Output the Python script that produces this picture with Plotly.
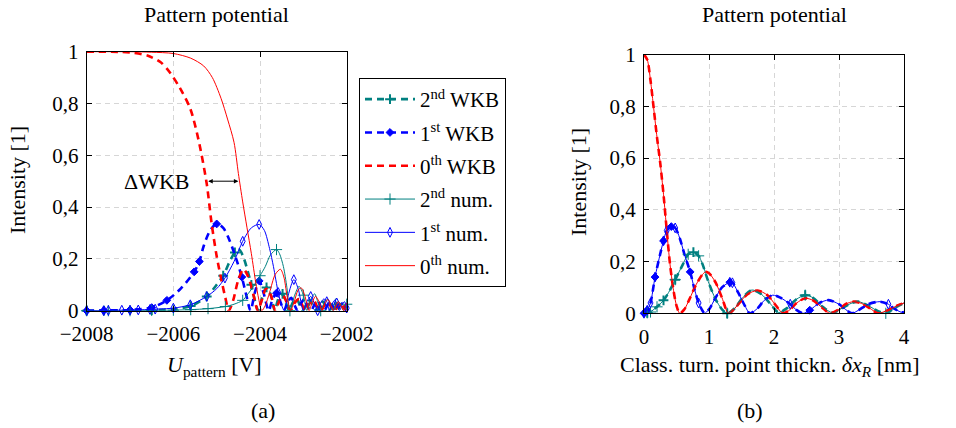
import plotly.graph_objects as go

FONT = "Liberation Serif"
TEAL = "#008080"
BLUE = "#0000ff"
RED = "#ff0000"

# ---------------- (a) left panel: intensity vs U_pattern ----------------
u_teal_wkb = [-2008, -2007.6, -2007.0, -2006.5, -2006.0, -2005.6, -2005.23, -2005.0, -2004.85, -2004.7,
              -2004.58, -2004.48, -2004.38, -2004.28, -2004.2, -2004.12, -2004.04, -2003.95, -2003.85,
              -2003.75, -2003.66, -2003.58, -2003.48, -2003.4, -2003.33, -2003.25, -2003.16, -2003.08,
              -2003.01, -2002.93, -2002.85, -2002.77, -2002.7, -2002.62, -2002.55, -2002.47, -2002.4,
              -2002.33, -2002.26, -2002.19, -2002.12, -2002.06, -2002.0]
i_teal_wkb = [0.0, 0.0, 0.001, 0.002, 0.006, 0.018, 0.055, 0.1, 0.135, 0.19,
              0.225, 0.235, 0.205, 0.15, 0.1, 0.04, 0.0, 0.05, 0.09,
              0.06, 0.0, 0.045, 0.065, 0.03, 0.0, 0.03, 0.048, 0.02,
              0.0, 0.025, 0.04, 0.015, 0.0, 0.02, 0.035, 0.01, 0.0,
              0.02, 0.03, 0.01, 0.0, 0.015, 0.025]
mk_teal_wkb = [-2008, -2007.6, -2006.5, -2005.6, -2005.23, -2004.85, -2004.58, -2004.2, -2003.85, -2003.48]

u_blue_wkb = [-2008, -2007.6, -2007.0, -2006.5, -2006.15, -2005.83, -2005.52, -2005.4, -2005.3, -2005.15,
              -2005.0, -2004.85, -2004.7, -2004.55, -2004.42, -2004.31, -2004.22, -2004.12, -2004.02,
              -2003.92, -2003.8, -2003.72, -2003.62, -2003.52, -2003.45, -2003.37, -2003.28, -2003.2,
              -2003.13, -2003.05, -2002.97, -2002.9, -2002.82, -2002.74, -2002.67, -2002.6, -2002.52,
              -2002.45, -2002.38, -2002.3, -2002.23, -2002.16, -2002.08, -2002.0]
i_blue_wkb = [0.0, 0.001, 0.003, 0.012, 0.04, 0.085, 0.15, 0.19, 0.25, 0.31,
              0.335, 0.32, 0.27, 0.2, 0.13, 0.055, 0.0, 0.07, 0.115,
              0.07, 0.0, 0.04, 0.068, 0.03, 0.0, 0.03, 0.05, 0.02,
              0.0, 0.03, 0.045, 0.015, 0.0, 0.025, 0.04, 0.015, 0.0,
              0.02, 0.035, 0.01, 0.0, 0.02, 0.03, 0.0]
mk_blue_wkb = [-2008, -2007.6, -2007.0, -2006.5, -2006.15, -2005.52, -2005.4, -2005.0, -2004.42, -2004.02, -2003.62]

u_red_wkb = [-2008, -2007.2, -2006.9, -2006.6, -2006.3, -2006.08, -2005.85, -2005.61, -2005.42, -2005.23,
             -2005.12, -2005.0, -2004.88, -2004.8, -2004.72, -2004.62, -2004.5, -2004.38, -2004.27,
             -2004.15, -2004.05, -2003.97, -2003.86, -2003.75, -2003.65, -2003.56, -2003.47, -2003.38,
             -2003.3, -2003.2, -2003.1, -2003.02, -2002.95, -2002.85, -2002.76, -2002.68, -2002.6,
             -2002.5, -2002.42, -2002.35, -2002.27, -2002.2, -2002.13, -2002.06, -2002.0]
i_red_wkb = [1.0, 0.999, 0.995, 0.985, 0.96, 0.92, 0.86, 0.78, 0.66, 0.49,
             0.34, 0.21, 0.11, 0.05, 0.0, 0.04, 0.12, 0.16, 0.13,
             0.06, 0.0, 0.035, 0.085, 0.06, 0.0, 0.035, 0.058, 0.03,
             0.0, 0.03, 0.045, 0.02, 0.0, 0.03, 0.04, 0.015, 0.0,
             0.025, 0.035, 0.01, 0.0, 0.02, 0.03, 0.01, 0.0]

u_teal_num = [-2008, -2007.5, -2007.0, -2006.5, -2006.0, -2005.6, -2005.2, -2004.8, -2004.6, -2004.4,
              -2004.3, -2004.15, -2004.0, -2003.88, -2003.76, -2003.62, -2003.55, -2003.46, -2003.38,
              -2003.31, -2003.2, -2003.1, -2003.0, -2002.92, -2002.84, -2002.74, -2002.66, -2002.6,
              -2002.52, -2002.44, -2002.37, -2002.32, -2002.26, -2002.19, -2002.12, -2002.07, -2002.02, -2002.0]
i_teal_num = [0.0, 0.0, 0.0, 0.001, 0.002, 0.004, 0.008, 0.016, 0.025, 0.04,
              0.06, 0.094, 0.135, 0.17, 0.215, 0.236, 0.22, 0.17, 0.09,
              0.0, 0.06, 0.094, 0.06, 0.0, 0.04, 0.065, 0.03, 0.0,
              0.03, 0.045, 0.02, 0.0, 0.025, 0.035, 0.015, 0.0, 0.02, 0.025]
mk_teal_num = [-2008, -2007.5, -2007.0, -2006.5, -2006.0, -2005.6, -2005.2, -2004.8, -2004.4, -2004.0,
               -2003.62, -2003.31, -2003.0, -2002.6, -2002.26, -2002.0]

u_blue_num = [-2008, -2007.61, -2007.5, -2007.19, -2007.0, -2006.81, -2006.54, -2006.42, -2006.0, -2005.61,
              -2005.23, -2005.0, -2004.81, -2004.6, -2004.4, -2004.2, -2004.02, -2003.9, -2003.78,
              -2003.69, -2003.58, -2003.5, -2003.44, -2003.35, -2003.22, -2003.12, -2003.0, -2002.92,
              -2002.83, -2002.74, -2002.67, -2002.6, -2002.53, -2002.46, -2002.4, -2002.34, -2002.28,
              -2002.23, -2002.17, -2002.11, -2002.05, -2002.0]
i_blue_num = [0.0, 0.0, 0.001, 0.002, 0.002, 0.003, 0.005, 0.006, 0.01, 0.023,
              0.055, 0.085, 0.126, 0.19, 0.268, 0.32, 0.333, 0.31, 0.24,
              0.17, 0.07, 0.02, 0.0, 0.06, 0.12, 0.085, 0.0, 0.035,
              0.055, 0.025, 0.0, 0.03, 0.045, 0.035, 0.0, 0.025, 0.04,
              0.03, 0.0, 0.02, 0.035, 0.01]
mk_blue_num = [-2008, -2007.61, -2007.5, -2007.19, -2007.0, -2006.81, -2006.54, -2006.42, -2006.0,
               -2005.61, -2005.23, -2004.81, -2004.4, -2004.02, -2003.58, -2003.22, -2002.83,
               -2002.67, -2002.46, -2002.23, -2002.0]

u_red_num = [-2008, -2007, -2006.5, -2006, -2005.6, -2005.3, -2005.1, -2004.9, -2004.75, -2004.6,
             -2004.5, -2004.4, -2004.3, -2004.2, -2004.1, -2004.03, -2003.96, -2003.88, -2003.78,
             -2003.65, -2003.53, -2003.45, -2003.38, -2003.3, -2003.22, -2003.12, -2003.05, -2002.97,
             -2002.87, -2002.8, -2002.72, -2002.64, -2002.57, -2002.5, -2002.43, -2002.36, -2002.31,
             -2002.25, -2002.19, -2002.12, -2002.07, -2002.03, -2002.0]
i_red_num = [1.0, 1.0, 0.998, 0.993, 0.975, 0.945, 0.9, 0.82, 0.74, 0.65,
             0.53, 0.42, 0.32, 0.22, 0.11, 0.045, 0.0, 0.02, 0.07,
             0.14, 0.16, 0.13, 0.06, 0.0, 0.03, 0.08, 0.088, 0.06,
             0.0, 0.03, 0.055, 0.035, 0.0, 0.03, 0.043, 0.02, 0.0,
             0.02, 0.035, 0.015, 0.0, 0.02, 0.03]

# ---------------- (b) right panel: intensity vs delta x_R ----------------
x_teal = [0, 0.05, 0.1, 0.14, 0.2, 0.3, 0.4, 0.48, 0.6, 0.68, 0.76, 0.84, 0.9, 1.0, 1.1, 1.2, 1.28,
          1.4, 1.5, 1.66, 1.8, 1.95, 2.07, 2.2, 2.35, 2.48, 2.6, 2.75, 2.9, 3.05, 3.2, 3.3, 3.45,
          3.6, 3.72, 3.85, 4.0]
r_teal = [0.0, 0.002, 0.005, 0.013, 0.025, 0.05, 0.09, 0.13, 0.19, 0.228, 0.236, 0.222, 0.19, 0.115,
          0.055, 0.015, 0.0, 0.02, 0.055, 0.09, 0.075, 0.035, 0.003, 0.02, 0.055, 0.07, 0.06, 0.025,
          0.002, 0.02, 0.04, 0.045, 0.03, 0.008, 0.0, 0.02, 0.04]
mk_teal_wkb_r = [0.05, 0.3, 0.48, 0.76, 1.28, 2.48]
mk_teal_num_r = [0.05, 0.1, 0.2, 0.48, 0.68, 0.84, 1.28, 2.48, 3.72]

x_blue = [0, 0.05, 0.1, 0.17, 0.25, 0.3, 0.35, 0.42, 0.48, 0.55, 0.62, 0.71, 0.78, 0.84, 0.9, 0.93,
          1.0, 1.1, 1.2, 1.32, 1.36, 1.45, 1.55, 1.63, 1.75, 1.85, 1.98, 2.1, 2.25, 2.35, 2.45, 2.55,
          2.7, 2.84, 3.0, 3.1, 3.2, 3.3, 3.45, 3.63, 3.76, 3.85, 3.96, 4.0]
r_blue = [0.0, 0.012, 0.04, 0.14, 0.23, 0.28, 0.32, 0.335, 0.33, 0.29, 0.23, 0.16, 0.09, 0.04, 0.01,
          0.0, 0.015, 0.06, 0.1, 0.12, 0.118, 0.08, 0.03, 0.0, 0.02, 0.05, 0.07, 0.06, 0.035, 0.012,
          0.0, 0.012, 0.04, 0.051, 0.035, 0.015, 0.0, 0.012, 0.035, 0.045, 0.035, 0.018, 0.004, 0.005]
mk_blue_wkb_r = [0, 0.05, 0.17, 0.3, 0.42, 0.71, 1.32, 2.55]
mk_blue_num_r = [0, 0.05, 0.1, 0.17, 0.3, 0.35, 0.48, 0.84, 1.32, 1.36, 2.25, 3.76]

x_red = [0, 0.05, 0.1, 0.15, 0.2, 0.25, 0.3, 0.35, 0.4, 0.45, 0.5, 0.55, 0.62, 0.7, 0.8, 0.9, 0.95,
         1.0, 1.1, 1.2, 1.3, 1.4, 1.5, 1.6, 1.75, 1.9, 2.0, 2.14, 2.25, 2.35, 2.48, 2.6, 2.75, 2.86,
         3.0, 3.1, 3.22, 3.35, 3.5, 3.6, 3.75, 3.9, 4.0]
r_red = [1.0, 0.98, 0.9, 0.79, 0.68, 0.58, 0.46, 0.32, 0.19, 0.095, 0.03, 0.0, 0.015, 0.055, 0.11,
         0.15, 0.16, 0.155, 0.12, 0.06, 0.0, 0.02, 0.05, 0.075, 0.088, 0.07, 0.04, 0.0, 0.015, 0.04,
         0.058, 0.05, 0.02, 0.0, 0.015, 0.035, 0.045, 0.038, 0.015, 0.0, 0.012, 0.03, 0.04]

names = ["2<sup>nd</sup> WKB", "1<sup>st</sup> WKB", "0<sup>th</sup> WKB",
         "2<sup>nd</sup> num.", "1<sup>st</sup> num.", "0<sup>th</sup> num."]

x_ticks_a = [-2008, -2006, -2004, -2002]
x_ticktext_a = ["\u22122008", "\u22122006", "\u22122004", "\u22122002"]
x_ticks_b = [0, 1, 2, 3, 4]
y_ticks = [0, 0.2, 0.4, 0.6, 0.8, 1]
y_ticktext = ["0", "0,2", "0,4", "0,6", "0,8", "1"]

DASH = "7px,5px"
styles = [
    dict(color=TEAL, width=2.6, dash=DASH, sym="cross-thin-open", ms=7, mlw=2, fill=False),
    dict(color=BLUE, width=2.6, dash=DASH, sym="diamond", ms=6, mlw=1, fill=True),
    dict(color=RED, width=2.6, dash=DASH, sym=None, ms=0, mlw=0, fill=False),
    dict(color=TEAL, width=1, dash="solid", sym="cross-thin-open", ms=8, mlw=1, fill=False),
    dict(color=BLUE, width=1, dash="solid", sym="diamond-tall-open", ms=7, mlw=1, fill=False),
    dict(color=RED, width=1, dash="solid", sym=None, ms=0, mlw=0, fill=False),
]

left_data = [(u_teal_wkb, i_teal_wkb, mk_teal_wkb), (u_blue_wkb, i_blue_wkb, mk_blue_wkb),
             (u_red_wkb, i_red_wkb, None), (u_teal_num, i_teal_num, mk_teal_num),
             (u_blue_num, i_blue_num, mk_blue_num), (u_red_num, i_red_num, None)]
right_data = [(x_teal, r_teal, mk_teal_wkb_r), (x_blue, r_blue, mk_blue_wkb_r),
              (x_red, r_red, None), (x_teal, r_teal, mk_teal_num_r),
              (x_blue, r_blue, mk_blue_num_r), (x_red, r_red, None)]


def make_trace(xs, ys, marks, st, name, xa, ya, legend):
    kw = dict(x=xs, y=ys, name=name, legendgroup=name, showlegend=legend, xaxis=xa, yaxis=ya,
              line=dict(color=st["color"], width=st["width"], dash=st["dash"], shape="spline",
                        smoothing=0.8),
              cliponaxis=False, hoverinfo="skip")
    if st["sym"] is None:
        kw["mode"] = "lines"
    else:
        kw["mode"] = "lines+markers"
        kw["marker"] = dict(symbol=st["sym"], size=st["ms"], color=st["color"],
                            line=dict(color=st["color"], width=st["mlw"]))
        kw["selectedpoints"] = [list(xs).index(v) for v in marks]
        kw["selected"] = dict(marker=dict(opacity=1))
        kw["unselected"] = dict(marker=dict(opacity=0))
    return go.Scatter(**kw)


fig = go.Figure()
for (xs, ys, mk), st, nm in zip(left_data, styles, names):
    fig.add_trace(make_trace(xs, ys, mk, st, nm, "x", "y", True))
for (xs, ys, mk), st, nm in zip(right_data, styles, names):
    fig.add_trace(make_trace(xs, ys, mk, st, nm, "x2", "y2", False))

W, H = 956, 428


def px_x(p):
    return p / W


def px_y(p):
    return 1 - p / H


axis_common = dict(showline=True, linecolor="black", linewidth=1, mirror="ticks", ticks="inside",
                   ticklen=5, tickcolor="black", tickwidth=1, showgrid=True, gridcolor="#d6d6d6",
                   griddash="5px,4px", gridwidth=1, zeroline=False, automargin=False,
                   tickfont=dict(family=FONT, size=21, color="black"))

fig.update_layout(
    width=W, height=H, margin=dict(l=0, r=0, t=0, b=0, autoexpand=False),
    paper_bgcolor="white", plot_bgcolor="white",
    xaxis=dict(domain=[px_x(86.7), px_x(346.7)], range=[-2008, -2002], tickvals=x_ticks_a,
               ticktext=x_ticktext_a, anchor="y", ticklabelstandoff=4, **axis_common),
    yaxis=dict(domain=[px_y(310.7), px_y(51.7)], range=[0, 1], tickvals=y_ticks,
               ticktext=y_ticktext, anchor="x", ticklabelstandoff=3, **axis_common),
    xaxis2=dict(domain=[px_x(644), px_x(904)], range=[0, 4], tickvals=x_ticks_b,
                anchor="y2", ticklabelstandoff=4, **axis_common),
    yaxis2=dict(domain=[px_y(313.3), px_y(54.5)], range=[0, 1], tickvals=y_ticks,
                ticktext=y_ticktext, anchor="x2", ticklabelstandoff=3, **axis_common),
    legend=dict(x=px_x(359), y=px_y(78), xanchor="left", yanchor="top",
                bgcolor="white", bordercolor="black", borderwidth=1,
                font=dict(family=FONT, size=21, color="black"),
                traceorder="grouped", tracegroupgap=3, itemwidth=50),
    font=dict(family=FONT, color="black"),
)

ann_font = dict(family=FONT, size=22, color="black")
annotations = [
    dict(text="Pattern potential", x=px_x(216), y=px_y(15)),
    dict(text="Pattern potential", x=px_x(774), y=px_y(15)),
    dict(text="<i>U</i><sub>pattern</sub> [V]", x=px_x(214), y=px_y(366)),
    dict(text="Class. turn. point thickn. <i>\u03b4x</i><sub><i>R</i></sub> [nm]", x=px_x(770), y=px_y(366)),
    dict(text="(a)", x=px_x(263), y=px_y(410)),
    dict(text="(b)", x=px_x(750), y=px_y(410)),
    dict(text="Intensity [1]", x=px_x(18), y=px_y(180), textangle=-90),
    dict(text="Intensity [1]", x=px_x(578), y=px_y(182), textangle=-90),
]
for a in annotations:
    fig.add_annotation(xref="paper", yref="paper", showarrow=False, font=ann_font,
                       xanchor="center", yanchor="middle", **a)

fig.add_annotation(xref="x", yref="y", x=-2006.4, y=0.5, text="\u0394WKB", showarrow=False,
                   font=ann_font, xanchor="center", yanchor="middle")
fig.add_annotation(xref="x", yref="y", axref="x", ayref="y", x=-2004.5, y=0.5, ax=-2005.23, ay=0.5,
                   text="", showarrow=True, arrowhead=2, arrowside="end+start", arrowsize=0.9,
                   arrowwidth=1, arrowcolor="black")

fig.write_html("out.html")
